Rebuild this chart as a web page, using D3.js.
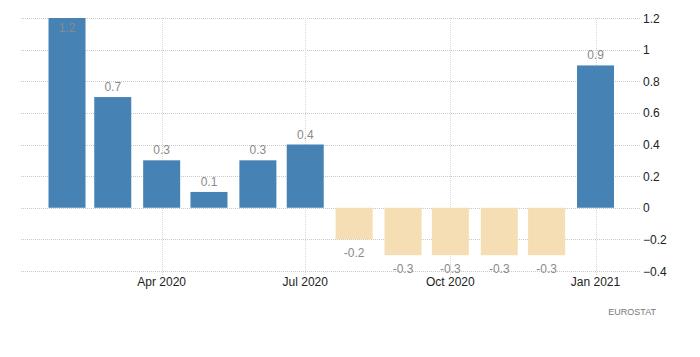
<!DOCTYPE html>
<html>
<head>
<meta charset="utf-8">
<script src="https://cdnjs.cloudflare.com/ajax/libs/d3/7.8.5/d3.min.js"></script>
<style>
  html, body { margin: 0; padding: 0; background: #fff; }
  svg { display: block; font-family: "Liberation Sans", Arial, sans-serif; }
</style>
</head>
<body>
<svg id="chart" width="700" height="357"></svg>
<script>
const months = ["2020-02","2020-03","2020-04","2020-05","2020-06","2020-07","2020-08","2020-09","2020-10","2020-11","2020-12","2021-01"];
const values = [1.2, 0.7, 0.3, 0.1, 0.3, 0.4, -0.2, -0.3, -0.3, -0.3, -0.3, 0.9];
const yTicks = [-0.4, -0.2, 0, 0.2, 0.4, 0.6, 0.8, 1, 1.2];
const xTickDates = ["2020-04","2020-07","2020-10","2021-01"];
const xTickLabels = ["Apr 2020","Jul 2020","Oct 2020","Jan 2021"];
const source = "EUROSTAT";

const parse = d3.timeParse("%Y-%m");
const svg = d3.select("#chart");

const x = d3.scaleTime()
  .domain([parse("2020-02"), parse("2021-01")])
  .range([67, 595.5]);
const y = d3.scaleLinear().domain([-0.4, 1.2]).range([271, 18]);

const gridLeft = 21, gridRight = 640;
const barW = 37;

// horizontal grid
svg.append("g").selectAll("line").data(yTicks).join("line")
  .attr("x1", gridLeft).attr("x2", gridRight)
  .attr("y1", d => Math.round(y(d)) + 0.5).attr("y2", d => Math.round(y(d)) + 0.5)
  .attr("stroke", "#c8c8c8").attr("stroke-dasharray", "1,1");

// vertical grid
svg.append("g").selectAll("line").data(xTickDates).join("line")
  .attr("x1", d => Math.round(x(parse(d))) + 0.5).attr("x2", d => Math.round(x(parse(d))) + 0.5)
  .attr("y1", 18).attr("y2", 276)
  .attr("stroke", "#d8d8d8").attr("stroke-dasharray", "1,1");

// bars
const data = months.map((m, i) => ({ date: parse(m), v: values[i] }));
svg.append("g").selectAll("rect").data(data).join("rect")
  .attr("x", d => x(d.date) - barW / 2)
  .attr("width", barW)
  .attr("y", d => y(Math.max(0, d.v)))
  .attr("height", d => Math.abs(y(d.v) - y(0)))
  .attr("fill", d => d.v >= 0 ? "#4682b4" : "#f5deb3");

// value labels
svg.append("g").selectAll("text").data(data).join("text")
  .attr("x", d => x(d.date))
  .attr("y", d => {
    if (d.v >= 0) {
      const yy = y(d.v) - 6;
      return yy < 26 ? y(d.v) + 14 : yy;
    }
    return y(d.v) + 18;
  })
  .attr("text-anchor", "middle")
  .attr("font-size", 12)
  .attr("fill", "#8a8a8a")
  .text(d => d.v);

// y axis labels (right)
svg.append("g").selectAll("text").data(yTicks).join("text")
  .attr("x", 643)
  .attr("y", d => y(d) + 4.5)
  .attr("font-size", 12)
  .attr("fill", "#222")
  .text(d => d3.format("")(d));

// x axis labels
svg.append("g").selectAll("text").data(xTickDates).join("text")
  .attr("x", d => x(parse(d)))
  .attr("y", 286)
  .attr("text-anchor", "middle")
  .attr("font-size", 12)
  .attr("fill", "#222")
  .text((d, i) => xTickLabels[i]);

// source
svg.append("text")
  .attr("x", 656).attr("y", 315)
  .attr("text-anchor", "end")
  .attr("font-size", 9)
  .attr("fill", "#777")
  .text(source);
</script>
</body>
</html>
